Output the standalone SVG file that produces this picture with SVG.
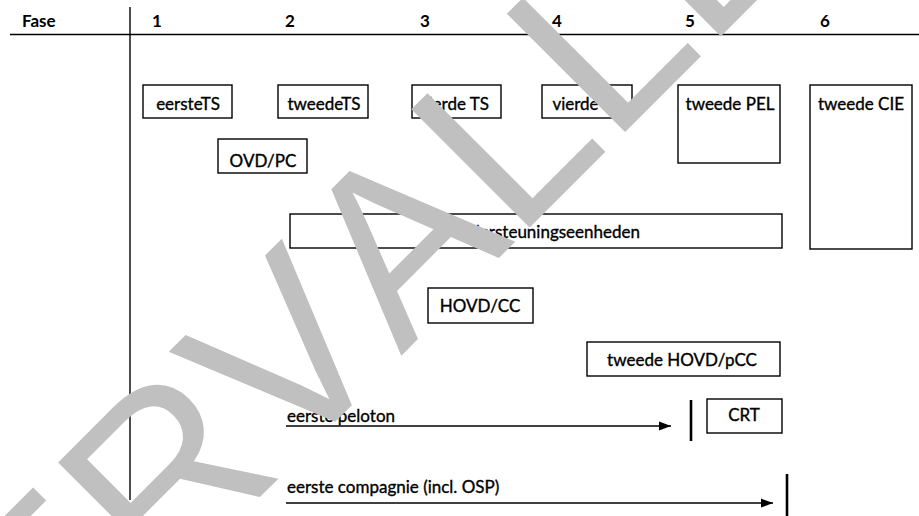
<svg xmlns="http://www.w3.org/2000/svg" width="919" height="516" viewBox="0 0 919 516">
  <style>
    .bx { fill: #ffffff; stroke: #000000; stroke-width: 1.4; }
    .t { font-family: Lato, "Open Sans", "Liberation Sans", sans-serif; font-size: 17px; fill: #000000; stroke: #000000; stroke-width: 0.35; }
    .h { font-family: Lato, "Open Sans", "Liberation Sans", sans-serif; font-size: 17px; font-weight: bold; fill: #000000; }
    .m { text-anchor: middle; }
    .ln { stroke: #000000; stroke-width: 1.4; fill: none; }
    .bar { stroke: #000000; stroke-width: 2.6; fill: none; }
    .wm { font-family: "Liberation Sans", Arial, sans-serif; font-size: 243px; fill: #c0c0c0; font-kerning: none; }
  </style>
  <defs>
    <marker id="ah" viewBox="0 0 12 10" refX="12" refY="5" markerWidth="12" markerHeight="10" markerUnits="userSpaceOnUse" orient="auto">
      <path d="M0,0.5 L12,5 L0,9.5 Z" fill="#000000"/>
    </marker>
  </defs>
  <rect width="919" height="516" fill="#ffffff"/>

  <g id="header">
    <text class="h" x="22" y="27">Fase</text>
    <text class="h m" x="157" y="27">1</text>
    <text class="h m" x="290" y="27">2</text>
    <text class="h m" x="425" y="27">3</text>
    <text class="h m" x="557" y="27">4</text>
    <text class="h m" x="690" y="27">5</text>
    <text class="h m" x="825" y="27">6</text>
    <line class="ln" x1="10" y1="34.5" x2="919" y2="34.5"/>
    <line class="ln" x1="130" y1="7" x2="130" y2="500"/>
  </g>

  <g id="eersteTS">
    <rect class="bx" x="143" y="85" width="89" height="33"/>
    <text class="t m" x="188" y="110">eersteTS</text>
  </g>
  <g id="tweedeTS">
    <rect class="bx" x="278" y="85" width="90" height="33"/>
    <text class="t m" x="324" y="110">tweedeTS</text>
  </g>
  <g id="derdeTS">
    <rect class="bx" x="412" y="85" width="89" height="33"/>
    <text class="t m" x="456" y="110">derde TS</text>
  </g>
  <g id="vierdeTS">
    <rect class="bx" x="542" y="85" width="90" height="33"/>
    <text class="t m" x="587" y="110">vierde TS</text>
  </g>
  <g id="tweedePEL">
    <rect class="bx" x="678" y="85" width="102" height="78"/>
    <text class="t m" x="730" y="110">tweede PEL</text>
  </g>
  <g id="tweedeCIE">
    <rect class="bx" x="810" y="85" width="102" height="164"/>
    <text class="t m" x="861" y="110">tweede CIE</text>
  </g>
  <g id="OVDPC">
    <rect class="bx" x="218" y="139" width="89" height="34"/>
    <text class="t m" x="263" y="167">OVD/PC</text>
  </g>
  <g id="ondersteuningseenheden">
    <rect class="bx" x="290" y="214" width="492" height="34"/>
    <text class="t" x="640" y="238" text-anchor="end">ondersteuningseenheden</text>
  </g>
  <g id="HOVDCC">
    <rect class="bx" x="428" y="288" width="105" height="35"/>
    <text class="t m" x="480" y="312">HOVD/CC</text>
  </g>
  <g id="tweedeHOVDpCC">
    <rect class="bx" x="587" y="342" width="193" height="34"/>
    <text class="t m" x="682" y="366">tweede HOVD/pCC</text>
  </g>
  <g id="CRT">
    <rect class="bx" x="707" y="399" width="75" height="34"/>
    <text class="t m" x="744" y="421">CRT</text>
  </g>
  <g id="eerstePeloton">
    <text class="t" x="287" y="422">eerste peloton</text>
  </g>
  <g id="eersteCompagnie">
    <text class="t" x="287" y="493">eerste compagnie (incl. OSP)</text>
  </g>

  <g id="connectors">
    <line class="ln" x1="286" y1="426" x2="671" y2="426" marker-end="url(#ah)"/>
    <line class="bar" x1="691" y1="400" x2="691" y2="441"/>
    <line class="ln" x1="286" y1="503" x2="773" y2="503" marker-end="url(#ah)"/>
    <line class="bar" x1="787" y1="474" x2="787" y2="516"/>
  </g>

  <g id="watermark">
    <text class="wm" x="0" y="0" transform="translate(-67,824) rotate(-45)">VERVALLEN</text>
  </g>
</svg>
